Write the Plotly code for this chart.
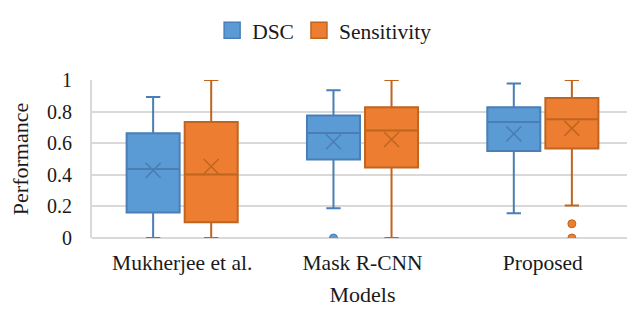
import plotly.graph_objects as go

categories = ["Mukherjee et al.", "Mask R-CNN", "Proposed"]
series_names = ["DSC", "Sensitivity"]

dsc_lower = [0.0, 0.188, 0.156]
dsc_q1 = [0.162, 0.497, 0.550]
dsc_median = [0.436, 0.665, 0.734]
dsc_q3 = [0.663, 0.775, 0.827]
dsc_upper = [0.893, 0.935, 0.978]
dsc_mean = [0.428, 0.609, 0.659]
dsc_outliers = [[], [0.0], []]

sen_lower = [0.0, 0.0, 0.205]
sen_q1 = [0.099, 0.446, 0.566]
sen_median = [0.402, 0.680, 0.751]
sen_q3 = [0.734, 0.828, 0.886]
sen_upper = [1.0, 1.0, 1.0]
sen_mean = [0.452, 0.623, 0.694]
sen_outliers = [[], [], [0.09, 0.0]]

y_ticks = [0, 0.2, 0.4, 0.6, 0.8, 1]
y_ticktext = ["0", "0.2", "0.4", "0.6", "0.8", "1"]

fills = ["#5B9BD5", "#ED7D31"]
lines = ["#4A7EB5", "#C0651F"]

FONT = "Liberation Serif, Times New Roman, serif"
TXT = "#1a1a1a"
offsets = [-0.161, 0.161]
box_w = 0.294

stats = [
    (dsc_lower, dsc_q1, dsc_median, dsc_q3, dsc_upper, dsc_mean, dsc_outliers),
    (sen_lower, sen_q1, sen_median, sen_q3, sen_upper, sen_mean, sen_outliers),
]

fig = go.Figure()
for s, (lo, q1, med, q3, up, mean, outs) in enumerate(stats):
    xs = [i + offsets[s] for i in range(len(categories))]
    fig.add_trace(go.Box(
        x=xs, q1=q1, median=med, q3=q3, lowerfence=lo, upperfence=up,
        width=box_w, whiskerwidth=0.27,
        fillcolor=fills[s], line=dict(color=lines[s], width=2),
        boxpoints=False, showlegend=False, name=series_names[s],
    ))
    fig.add_trace(go.Scatter(
        x=xs, y=mean, mode="markers", showlegend=False,
        marker=dict(symbol="x-thin-open", size=15, color=lines[s], line=dict(color=lines[s], width=1.5)),
    ))
    ox, oy = [], []
    for i, vals in enumerate(outs):
        for v in vals:
            ox.append(xs[i])
            oy.append(v)
    if ox:
        fig.add_trace(go.Scatter(
            x=ox, y=oy, mode="markers", showlegend=False, cliponaxis=True,
            marker=dict(symbol="circle", size=8, color=fills[s], line=dict(color=lines[s], width=1)),
        ))
    # legend proxy
    fig.add_trace(go.Scatter(
        x=[None], y=[None], mode="markers", name=series_names[s],
        marker=dict(symbol="square", size=17, color=fills[s], line=dict(color=lines[s], width=1.5)),
    ))

fig.update_layout(
    width=627, height=314,
    margin=dict(l=84, r=2, t=61, b=84),
    paper_bgcolor="white", plot_bgcolor="white",
    font=dict(family=FONT, size=20, color=TXT),
    legend=dict(orientation="h", x=0.43, xanchor="center", y=1.314, yanchor="middle",
                font=dict(family=FONT, size=21.5, color=TXT), itemwidth=30, tracegroupgap=0),
    xaxis=dict(range=[-0.5, 2.5], tickvals=list(range(len(categories))), ticktext=categories,
               showgrid=False, zeroline=False, showline=False, ticks="",
               ticklabelstandoff=9,
               title=dict(text="Models", font=dict(family=FONT, size=22, color=TXT), standoff=13),
               tickfont=dict(family=FONT, size=21.5, color=TXT)),
    yaxis=dict(range=[0, 1], tickvals=y_ticks, ticktext=y_ticktext,
               showgrid=True, gridcolor="#D9D9D9", gridwidth=2,
               zeroline=True, zerolinecolor="#D9D9D9", zerolinewidth=2,
               showline=True, linecolor="#D9D9D9", linewidth=2,
               ticks="", ticklabelstandoff=14,
               title=dict(text="Performance", font=dict(family=FONT, size=22, color=TXT), standoff=14),
               tickfont=dict(family=FONT, size=20, color=TXT)),
)

fig.write_html("out.html")
